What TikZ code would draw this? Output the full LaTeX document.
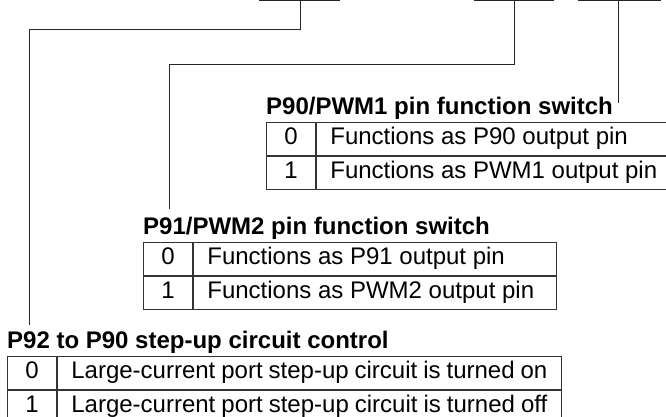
\documentclass[tikz,border=0pt]{standalone}
\usepackage{fontspec}
\setmainfont{Liberation Sans}
\usetikzlibrary{positioning}

\begin{document}
\begin{tikzpicture}[
  x=1pt, y=-1pt,
  font=\fontsize{24}{28}\selectfont,
  ttl/.style={font=\fontsize{24}{28}\selectfont\bfseries,
              anchor=base west, inner sep=0pt},
  bitcell/.style={draw=black!80, line width=0.9pt, minimum width=49pt,
                  minimum height=33pt, inner sep=0pt,
                  text height=17pt, text depth=5pt},
  desc/.style={bitcell, inner xsep=14pt,
               execute at begin node={\hbox to #1\bgroup},
               execute at end node={\hfil\egroup}},
  wire/.style={draw=black!85, line width=0.8pt}
]
\useasboundingbox (0,0) rectangle (666,417);

%% ---- bit fields (top edge) ----
\coordinate (b1w) at (259,0.5);  \coordinate (b1e) at (340,0.5);
\coordinate (b2w) at (474,0.5);  \coordinate (b2e) at (554,0.5);
\coordinate (b3w) at (578,0.5);  \coordinate (b3e) at (661,0.5);
\coordinate (b1m) at (300,0.5);
\coordinate (b2m) at (514,0.5);
\coordinate (b3m) at (618,0.5);
\draw[wire] (b1w) -- (b1e);
\draw[wire] (b2w) -- (b2e);
\draw[wire] (b3w) -- (b3e);

%% ---- leader ends ----
\coordinate (e1) at (29,325);
\coordinate (e2) at (169,209);
\coordinate (e3) at (618,103);

\draw[wire] (b1m) -- ++(0,28.5) -| (e1);
\draw[wire] (b2m) -- ++(0,63.5) -| (e2);
\draw[wire] (b3m) -- (e3);

%% ---- P90/PWM1 ----
\node[ttl] (p90ttl) at (266,114) {P90/PWM1 pin function switch};
\begin{scope}
\clip (0,0) rectangle (666,417);
\node[bitcell, anchor=north west] (p90v0) at (266,122) {0};
\node[bitcell, below=0pt of p90v0] (p90v1) {1};
\node[desc=352pt, right=0pt of p90v0] (p90d0) {Functions as P90 output pin};
\node[desc=352pt, right=0pt of p90v1] (p90d1) {Functions as PWM1 output pin};
\end{scope}

%% ---- P91/PWM2 ----
\node[ttl] (p91ttl) at (143,234) {P91/PWM2 pin function switch};
\node[bitcell, anchor=north west] (p91v0) at (143,242) {0};
\node[bitcell, below=0pt of p91v0] (p91v1) {1};
\node[desc=335pt, right=0pt of p91v0] (p91d0) {Functions as P91 output pin};
\node[desc=335pt, right=0pt of p91v1] (p91d1) {Functions as PWM2 output pin};

%% ---- P92 to P90 step-up ----
\node[ttl] (p92ttl) at (7,348) {P92 to P90 step-up circuit control};
\node[bitcell, anchor=north west] (p92v0) at (7,356) {0};
\node[bitcell, below=0pt of p92v0] (p92v1) {1};
\node[desc=476pt, right=0pt of p92v0] (p92d0) {Large-current port step-up circuit is turned on};
\node[desc=476pt, right=0pt of p92v1] (p92d1) {Large-current port step-up circuit is turned off};

\end{tikzpicture}
\end{document}
